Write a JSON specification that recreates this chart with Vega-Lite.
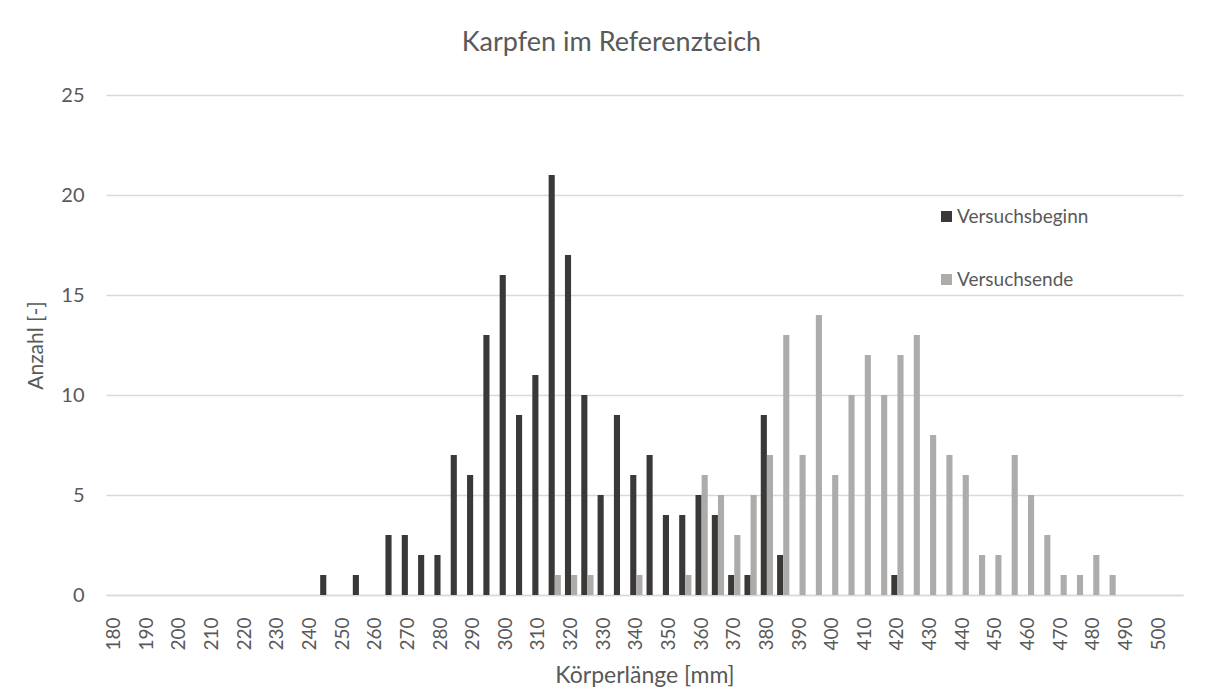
{
  "$schema": "https://vega.github.io/schema/vega-lite/v6.json",
  "width": 1077,
  "height": 500,
  "autosize": "none",
  "padding": {"left": 106, "top": 95, "right": 30, "bottom": 101},
  "background": "white",
  "title": {"text": "Karpfen im Referenzteich", "font": "Lato", "fontSize": 27, "fontWeight": "normal", "color": "#595959", "anchor": "middle", "dx": -33, "offset": 28},
  "data": {"values": [
    {"len": 245, "serie": "Versuchsbeginn", "n": 1},
    {"len": 255, "serie": "Versuchsbeginn", "n": 1},
    {"len": 265, "serie": "Versuchsbeginn", "n": 3},
    {"len": 270, "serie": "Versuchsbeginn", "n": 3},
    {"len": 275, "serie": "Versuchsbeginn", "n": 2},
    {"len": 280, "serie": "Versuchsbeginn", "n": 2},
    {"len": 285, "serie": "Versuchsbeginn", "n": 7},
    {"len": 290, "serie": "Versuchsbeginn", "n": 6},
    {"len": 295, "serie": "Versuchsbeginn", "n": 13},
    {"len": 300, "serie": "Versuchsbeginn", "n": 16},
    {"len": 305, "serie": "Versuchsbeginn", "n": 9},
    {"len": 310, "serie": "Versuchsbeginn", "n": 11},
    {"len": 315, "serie": "Versuchsbeginn", "n": 21},
    {"len": 320, "serie": "Versuchsbeginn", "n": 17},
    {"len": 325, "serie": "Versuchsbeginn", "n": 10},
    {"len": 330, "serie": "Versuchsbeginn", "n": 5},
    {"len": 335, "serie": "Versuchsbeginn", "n": 9},
    {"len": 340, "serie": "Versuchsbeginn", "n": 6},
    {"len": 345, "serie": "Versuchsbeginn", "n": 7},
    {"len": 350, "serie": "Versuchsbeginn", "n": 4},
    {"len": 355, "serie": "Versuchsbeginn", "n": 4},
    {"len": 360, "serie": "Versuchsbeginn", "n": 5},
    {"len": 365, "serie": "Versuchsbeginn", "n": 4},
    {"len": 370, "serie": "Versuchsbeginn", "n": 1},
    {"len": 375, "serie": "Versuchsbeginn", "n": 1},
    {"len": 380, "serie": "Versuchsbeginn", "n": 9},
    {"len": 385, "serie": "Versuchsbeginn", "n": 2},
    {"len": 420, "serie": "Versuchsbeginn", "n": 1},
    {"len": 315, "serie": "Versuchsende", "n": 1},
    {"len": 320, "serie": "Versuchsende", "n": 1},
    {"len": 325, "serie": "Versuchsende", "n": 1},
    {"len": 340, "serie": "Versuchsende", "n": 1},
    {"len": 355, "serie": "Versuchsende", "n": 1},
    {"len": 360, "serie": "Versuchsende", "n": 6},
    {"len": 365, "serie": "Versuchsende", "n": 5},
    {"len": 370, "serie": "Versuchsende", "n": 3},
    {"len": 375, "serie": "Versuchsende", "n": 5},
    {"len": 380, "serie": "Versuchsende", "n": 7},
    {"len": 385, "serie": "Versuchsende", "n": 13},
    {"len": 390, "serie": "Versuchsende", "n": 7},
    {"len": 395, "serie": "Versuchsende", "n": 14},
    {"len": 400, "serie": "Versuchsende", "n": 6},
    {"len": 405, "serie": "Versuchsende", "n": 10},
    {"len": 410, "serie": "Versuchsende", "n": 12},
    {"len": 415, "serie": "Versuchsende", "n": 10},
    {"len": 420, "serie": "Versuchsende", "n": 12},
    {"len": 425, "serie": "Versuchsende", "n": 13},
    {"len": 430, "serie": "Versuchsende", "n": 8},
    {"len": 435, "serie": "Versuchsende", "n": 7},
    {"len": 440, "serie": "Versuchsende", "n": 6},
    {"len": 445, "serie": "Versuchsende", "n": 2},
    {"len": 450, "serie": "Versuchsende", "n": 2},
    {"len": 455, "serie": "Versuchsende", "n": 7},
    {"len": 460, "serie": "Versuchsende", "n": 5},
    {"len": 465, "serie": "Versuchsende", "n": 3},
    {"len": 470, "serie": "Versuchsende", "n": 1},
    {"len": 475, "serie": "Versuchsende", "n": 1},
    {"len": 480, "serie": "Versuchsende", "n": 2},
    {"len": 485, "serie": "Versuchsende", "n": 1}
  ]},
  "mark": {"type": "bar"},
  "encoding": {
    "x": {
      "field": "len", "type": "ordinal",
      "scale": {
        "domain": [180,185,190,195,200,205,210,215,220,225,230,235,240,245,250,255,260,265,270,275,280,285,290,295,300,305,310,315,320,325,330,335,340,345,350,355,360,365,370,375,380,385,390,395,400,405,410,415,420,425,430,435,440,445,450,455,460,465,470,475,480,485,490,495,500,505],
        "paddingInner": 0.25, "paddingOuter": 0.125
      },
      "axis": {
        "values": [180,190,200,210,220,230,240,250,260,270,280,290,300,310,320,330,340,350,360,370,380,390,400,410,420,430,440,450,460,470,480,490,500],
        "labelAngle": -90,
        "labelFont": "Lato", "labelFontSize": 19, "labelColor": "#595959",
        "labelPadding": 22,
        "ticks": false,
        "domainColor": "#d9d9d9", "domainWidth": 1.3,
        "title": "Körperlänge [mm]",
        "titleFont": "Lato", "titleFontSize": 23, "titleFontWeight": "normal", "titleColor": "#595959",
        "titlePadding": 14
      }
    },
    "xOffset": {"field": "serie", "type": "nominal", "scale": {"domain": ["Versuchsbeginn", "Versuchsende"], "paddingInner": 0, "paddingOuter": 0}},
    "y": {
      "field": "n", "type": "quantitative",
      "scale": {"domain": [0, 25], "nice": false},
      "axis": {
        "values": [0,5,10,15,20,25],
        "labelFont": "Lato", "labelFontSize": 20, "labelColor": "#595959",
        "labelPadding": 22,
        "ticks": false, "domain": false,
        "grid": true, "gridColor": "#d9d9d9", "gridWidth": 1.3,
        "title": "Anzahl [-]",
        "titleFont": "Lato", "titleFontSize": 21, "titleFontWeight": "normal", "titleColor": "#595959",
        "titlePadding": 14
      }
    },
    "color": {
      "field": "serie", "type": "nominal",
      "scale": {"domain": ["Versuchsbeginn", "Versuchsende"], "range": ["#3b3838", "#aeabab"]},
      "legend": {
        "title": null, "orient": "none", "legendX": 831, "legendY": 112,
        "symbolType": "square", "symbolSize": 121, "symbolStrokeWidth": 0,
        "labelFont": "Lato", "labelFontSize": 19, "labelColor": "#595959",
        "labelOffset": 1, "rowPadding": 43
      }
    }
  },
  "config": {"view": {"stroke": null}}
}
